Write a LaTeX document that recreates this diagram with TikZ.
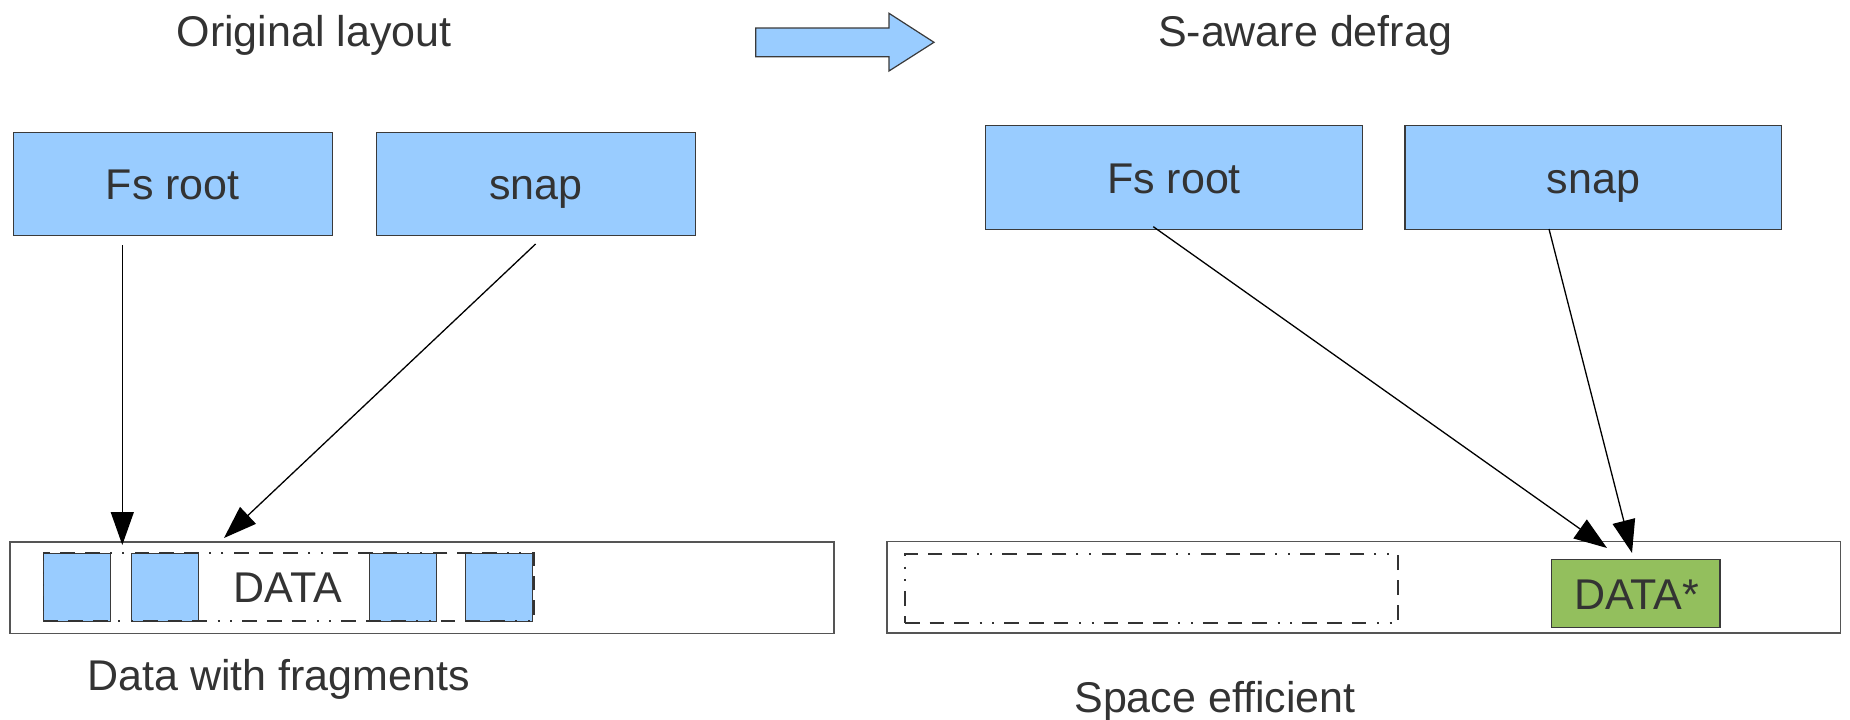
\documentclass[tikz,border=0pt]{standalone}
\usepackage{fontspec}
\setmainfont{Liberation Sans}
\usetikzlibrary{arrows.meta}
\definecolor{boxblue}{HTML}{99CCFF}
\definecolor{datagreen}{HTML}{93BF5D}
\definecolor{ink}{HTML}{333333}
\definecolor{edge}{HTML}{3A3A3A}
\definecolor{rail}{HTML}{555555}

\begin{document}
\begin{tikzpicture}[x=1pt,y=-1pt,
  caption/.style={text=ink,font=\fontsize{43}{50}\selectfont,inner sep=0pt,anchor=base},
  treebox/.style={draw=edge,fill=boxblue,line width=1.2pt,inner sep=0pt,outer sep=0pt,
    minimum height=103pt,text=ink,font=\fontsize{43}{50}\selectfont,
    text height=31pt,text depth=0pt},
  diskbar/.style={draw=rail,line width=1.3pt,inner sep=0pt,outer sep=0pt},
  fragment/.style={draw=edge,fill=boxblue,line width=1pt,inner sep=0pt,outer sep=0pt,
    minimum width=67pt,minimum height=68pt},
  extent/.style={draw=black!80,line width=1.3pt,inner sep=0pt,outer sep=0pt,
    dash pattern=on 14.7pt off 10pt on 14.7pt off 10pt on 14.7pt off 10.6pt
      on 2pt off 10.6pt on 2pt off 10pt},
  datalabel/.style={text=ink,font=\fontsize{43}{50}\selectfont,inner sep=0pt,
    text height=31pt,text depth=0pt},
  ptr/.style={draw=black,line width=1.3pt,-{Triangle[length=33pt,width=23pt]}}
]
\useasboundingbox (0,0) rectangle (1850,720);

% headings
\node[caption] (titleL) at (314,46.5) {Original layout};
\node[caption] (titleR) at (1305,46.5) {S-aware defrag};

% block arrow between the two layouts
\draw[fill=boxblue,draw=edge,line width=1.2pt]
  (755.7,28) -- (889,28) -- (889,13.3) -- (934,42.3) -- (889,71)
  -- (889,56.7) -- (755.7,56.7) -- cycle;

% ---- original layout ----
\node[treebox,minimum width=319pt] (fsL) at (172.8,183.8) {Fs root};
\node[treebox,minimum width=319pt] (snapL) at (535.9,183.8) {snap};

\node[diskbar,minimum width=824pt,minimum height=91.6pt] (barL) at (422,587.8) {};
\node[fragment] (frag1) at (77,587) {};
\node[fragment] (frag2) at (165.3,587) {};
\node[fragment] (frag3) at (403,587) {};
\node[fragment] (frag4) at (498.9,587) {};
\node[extent,minimum width=490.5pt,minimum height=68pt] (dataL) at (288.8,587) {};
\node[datalabel] (dataLtext) at (288,587) {DATA};

\node[caption] (noteL) at (278.5,690) {Data with fragments};

\coordinate (fsLout) at (122.3,245);
\coordinate (fsLin) at (122.3,545);
\coordinate (snapLout) at (535.6,244);
\coordinate (snapLin) at (224,538);
\draw[ptr] (fsLout) -- (fsLin);
\draw[ptr] (snapLout) -- (snapLin);

% ---- snapshot-aware defrag ----
\node[treebox,minimum width=376.6pt,minimum height=103.6pt] (fsR) at (1174,177.5) {Fs root};
\node[treebox,minimum width=376.6pt,minimum height=103.6pt] (snapR) at (1593.3,177.5) {snap};

\node[diskbar,minimum width=953.5pt,minimum height=91.3pt] (barR) at (1363.8,587.4) {};
\node[extent,minimum width=493pt,minimum height=69pt] (freeR) at (1151.5,588.5) {};
\node[draw=edge,fill=datagreen,line width=1.2pt,inner sep=0pt,outer sep=0pt,
  minimum width=168.3pt,minimum height=68.4pt] (dataR) at (1635.9,593.5) {};
\node[datalabel] (dataRtext) at (1636.5,594) {DATA*};

\node[caption] (noteR) at (1215,712.7) {Space efficient};

\coordinate (fsRout) at (1153.3,226.7);
\coordinate (fsRin) at (1607,548);
\coordinate (snapRout) at (1549,229);
\coordinate (snapRin) at (1632,553);
\draw[ptr] (fsRout) -- (fsRin);
\draw[ptr] (snapRout) -- (snapRin);
\end{tikzpicture}
\end{document}
